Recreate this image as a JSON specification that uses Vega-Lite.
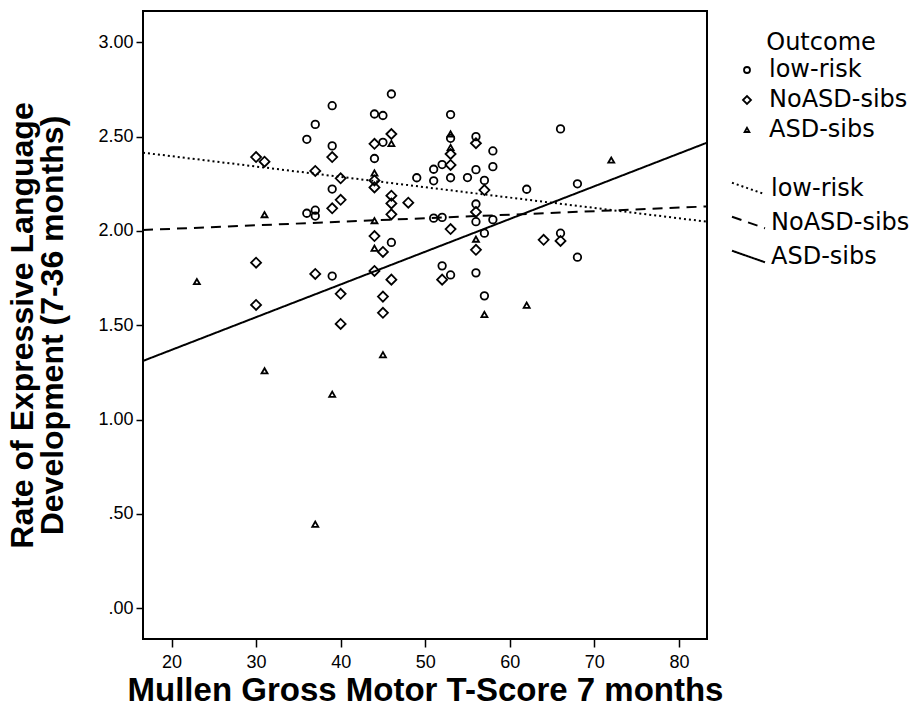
{
  "$schema": "https://vega.github.io/schema/vega-lite/v6.json",
  "width": 564,
  "height": 628,
  "autosize": {"type": "none"},
  "padding": {"left": 143, "top": 11, "right": 209, "bottom": 81},
  "background": "white",
  "config": {"view": {"stroke": "black", "strokeWidth": 2}},
  "datasets": {
    "points": [
      {"Outcome": "low-risk", "score": 46, "rate": 2.726},
      {"Outcome": "low-risk", "score": 39, "rate": 2.664},
      {"Outcome": "low-risk", "score": 44, "rate": 2.620},
      {"Outcome": "low-risk", "score": 45, "rate": 2.612},
      {"Outcome": "low-risk", "score": 37, "rate": 2.565},
      {"Outcome": "low-risk", "score": 36, "rate": 2.486},
      {"Outcome": "low-risk", "score": 45, "rate": 2.470},
      {"Outcome": "low-risk", "score": 39, "rate": 2.451},
      {"Outcome": "low-risk", "score": 44, "rate": 2.384},
      {"Outcome": "low-risk", "score": 51, "rate": 2.327},
      {"Outcome": "low-risk", "score": 49, "rate": 2.282},
      {"Outcome": "low-risk", "score": 51, "rate": 2.266},
      {"Outcome": "low-risk", "score": 39, "rate": 2.222},
      {"Outcome": "low-risk", "score": 36, "rate": 2.094},
      {"Outcome": "low-risk", "score": 37, "rate": 2.110},
      {"Outcome": "low-risk", "score": 37, "rate": 2.079},
      {"Outcome": "low-risk", "score": 51, "rate": 2.068},
      {"Outcome": "low-risk", "score": 46, "rate": 1.939},
      {"Outcome": "low-risk", "score": 39, "rate": 1.761},
      {"Outcome": "low-risk", "score": 52, "rate": 1.815},
      {"Outcome": "low-risk", "score": 53, "rate": 2.617},
      {"Outcome": "low-risk", "score": 53, "rate": 2.491},
      {"Outcome": "low-risk", "score": 56, "rate": 2.500},
      {"Outcome": "low-risk", "score": 58, "rate": 2.424},
      {"Outcome": "low-risk", "score": 58, "rate": 2.341},
      {"Outcome": "low-risk", "score": 56, "rate": 2.325},
      {"Outcome": "low-risk", "score": 55, "rate": 2.283},
      {"Outcome": "low-risk", "score": 57, "rate": 2.268},
      {"Outcome": "low-risk", "score": 52, "rate": 2.352},
      {"Outcome": "low-risk", "score": 53, "rate": 2.282},
      {"Outcome": "low-risk", "score": 62, "rate": 2.221},
      {"Outcome": "low-risk", "score": 66, "rate": 2.541},
      {"Outcome": "low-risk", "score": 68, "rate": 2.250},
      {"Outcome": "low-risk", "score": 52, "rate": 2.072},
      {"Outcome": "low-risk", "score": 56, "rate": 2.143},
      {"Outcome": "low-risk", "score": 56, "rate": 2.049},
      {"Outcome": "low-risk", "score": 58, "rate": 2.060},
      {"Outcome": "low-risk", "score": 57, "rate": 1.988},
      {"Outcome": "low-risk", "score": 66, "rate": 1.988},
      {"Outcome": "low-risk", "score": 68, "rate": 1.861},
      {"Outcome": "low-risk", "score": 53, "rate": 1.767},
      {"Outcome": "low-risk", "score": 56, "rate": 1.778},
      {"Outcome": "low-risk", "score": 57, "rate": 1.656},
      {"Outcome": "NoASD-sibs", "score": 46, "rate": 2.514},
      {"Outcome": "NoASD-sibs", "score": 44, "rate": 2.462},
      {"Outcome": "NoASD-sibs", "score": 39, "rate": 2.392},
      {"Outcome": "NoASD-sibs", "score": 30, "rate": 2.392},
      {"Outcome": "NoASD-sibs", "score": 31, "rate": 2.367},
      {"Outcome": "NoASD-sibs", "score": 37, "rate": 2.318},
      {"Outcome": "NoASD-sibs", "score": 44, "rate": 2.268},
      {"Outcome": "NoASD-sibs", "score": 44, "rate": 2.231},
      {"Outcome": "NoASD-sibs", "score": 40, "rate": 2.279},
      {"Outcome": "NoASD-sibs", "score": 46, "rate": 2.187},
      {"Outcome": "NoASD-sibs", "score": 46, "rate": 2.146},
      {"Outcome": "NoASD-sibs", "score": 48, "rate": 2.150},
      {"Outcome": "NoASD-sibs", "score": 40, "rate": 2.165},
      {"Outcome": "NoASD-sibs", "score": 39, "rate": 2.120},
      {"Outcome": "NoASD-sibs", "score": 46, "rate": 2.088},
      {"Outcome": "NoASD-sibs", "score": 44, "rate": 1.973},
      {"Outcome": "NoASD-sibs", "score": 45, "rate": 1.889},
      {"Outcome": "NoASD-sibs", "score": 30, "rate": 1.832},
      {"Outcome": "NoASD-sibs", "score": 37, "rate": 1.772},
      {"Outcome": "NoASD-sibs", "score": 44, "rate": 1.788},
      {"Outcome": "NoASD-sibs", "score": 46, "rate": 1.742},
      {"Outcome": "NoASD-sibs", "score": 40, "rate": 1.667},
      {"Outcome": "NoASD-sibs", "score": 45, "rate": 1.652},
      {"Outcome": "NoASD-sibs", "score": 30, "rate": 1.608},
      {"Outcome": "NoASD-sibs", "score": 45, "rate": 1.566},
      {"Outcome": "NoASD-sibs", "score": 40, "rate": 1.507},
      {"Outcome": "NoASD-sibs", "score": 53, "rate": 2.408},
      {"Outcome": "NoASD-sibs", "score": 53, "rate": 2.350},
      {"Outcome": "NoASD-sibs", "score": 56, "rate": 2.465},
      {"Outcome": "NoASD-sibs", "score": 57, "rate": 2.217},
      {"Outcome": "NoASD-sibs", "score": 56, "rate": 2.101},
      {"Outcome": "NoASD-sibs", "score": 53, "rate": 2.010},
      {"Outcome": "NoASD-sibs", "score": 56, "rate": 1.900},
      {"Outcome": "NoASD-sibs", "score": 64, "rate": 1.953},
      {"Outcome": "NoASD-sibs", "score": 66, "rate": 1.947},
      {"Outcome": "NoASD-sibs", "score": 52, "rate": 1.742},
      {"Outcome": "ASD-sibs", "score": 46, "rate": 2.463},
      {"Outcome": "ASD-sibs", "score": 44, "rate": 2.307},
      {"Outcome": "ASD-sibs", "score": 31, "rate": 2.086},
      {"Outcome": "ASD-sibs", "score": 44, "rate": 2.054},
      {"Outcome": "ASD-sibs", "score": 44, "rate": 1.908},
      {"Outcome": "ASD-sibs", "score": 23, "rate": 1.731},
      {"Outcome": "ASD-sibs", "score": 45, "rate": 1.343},
      {"Outcome": "ASD-sibs", "score": 31, "rate": 1.258},
      {"Outcome": "ASD-sibs", "score": 39, "rate": 1.134},
      {"Outcome": "ASD-sibs", "score": 37, "rate": 0.445},
      {"Outcome": "ASD-sibs", "score": 53, "rate": 2.514},
      {"Outcome": "ASD-sibs", "score": 53, "rate": 2.442},
      {"Outcome": "ASD-sibs", "score": 72, "rate": 2.375},
      {"Outcome": "ASD-sibs", "score": 56, "rate": 1.956},
      {"Outcome": "ASD-sibs", "score": 62, "rate": 1.606},
      {"Outcome": "ASD-sibs", "score": 57, "rate": 1.557}
    ],
    "fits": [
      {"Fit": "low-risk fit", "score": 16.63, "rate": 2.415},
      {"Fit": "low-risk fit", "score": 83.32, "rate": 2.049},
      {"Fit": "NoASD-sibs fit", "score": 16.63, "rate": 2.005},
      {"Fit": "NoASD-sibs fit", "score": 83.32, "rate": 2.130},
      {"Fit": "ASD-sibs fit", "score": 16.63, "rate": 1.311},
      {"Fit": "ASD-sibs fit", "score": 83.32, "rate": 2.468}
    ]
  },
  "encoding": {
    "x": {
      "field": "score",
      "type": "quantitative",
      "scale": {"domain": [16.63, 83.32], "nice": false, "zero": false},
      "axis": {
        "title": "Mullen Gross Motor T-Score 7 months",
        "values": [20, 30, 40, 50, 60, 70, 80],
        "format": "d",
        "grid": false,
        "domain": false,
        "tickSize": 8,
        "tickWidth": 1.5,
        "tickColor": "black",
        "labelFont": "Liberation Sans",
        "labelFontSize": 18,
        "labelColor": "black",
        "labelPadding": 6,
        "titleFont": "Liberation Sans",
        "titleFontSize": 33,
        "titleFontWeight": "bold",
        "titleColor": "black",
        "titleY": 51,
        "titleBaseline": "middle"
      }
    },
    "y": {
      "field": "rate",
      "type": "quantitative",
      "scale": {"domain": [-0.163, 3.166], "nice": false, "zero": false},
      "axis": {
        "title": ["Rate of Expressive Language", "Development (7-36 months)"],
        "values": [0, 0.5, 1, 1.5, 2, 2.5, 3],
        "labelExpr": "datum.value < 1 ? substring(format(datum.value, '.2f'), 1) : format(datum.value, '.2f')",
        "grid": false,
        "domain": false,
        "tickSize": 7,
        "tickWidth": 1.5,
        "tickColor": "black",
        "labelFont": "Liberation Sans",
        "labelFontSize": 18,
        "labelColor": "black",
        "labelPadding": 3,
        "titleFont": "Liberation Sans",
        "titleFontSize": 32,
        "titleFontWeight": "bold",
        "titleColor": "black",
        "titleLineHeight": 30,
        "titleX": -121,
        "titleY": 314,
        "titleAngle": -90,
        "titleAlign": "center",
        "titleBaseline": "middle"
      }
    }
  },
  "layer": [
    {
      "data": {"name": "fits"},
      "mark": {"type": "line", "color": "black", "strokeWidth": 2},
      "encoding": {
        "strokeDash": {
          "field": "Fit",
          "type": "nominal",
          "scale": {"domain": ["low-risk fit", "NoASD-sibs fit", "ASD-sibs fit"], "range": [[2, 3], [10, 7], [1, 0]]},
          "legend": {
            "title": null,
            "orient": "none",
            "legendX": 588,
            "legendY": 160,
            "padding": 0,
            "symbolType": "M-1,-0.35L1,0.35",
            "symbolSize": 1089,
            "symbolStrokeColor": "black",
            "symbolStrokeWidth": 2,
            "labelExpr": "replace(datum.label, ' fit', '')",
            "labelFont": "DejaVu Sans",
            "labelFontSize": 24,
            "labelColor": "black",
            "labelOffset": 5,
            "rowPadding": 4
          }
        }
      }
    },
    {
      "data": {"name": "points"},
      "mark": {"type": "point", "filled": false, "color": "black", "strokeWidth": 1.8, "size": 100, "opacity": 1},
      "encoding": {
        "shape": {
          "field": "Outcome",
          "type": "nominal",
          "scale": {
            "domain": ["low-risk", "NoASD-sibs", "ASD-sibs"],
            "range": [
              "M-0.75,0A0.75,0.75,0,1,0,0.75,0A0.75,0.75,0,1,0,-0.75,0Z",
              "M-1,0L0,-1L1,0L0,1Z",
              "M0,-0.55L-0.6,0.5L0.6,0.5Z"
            ]
          },
          "legend": {
            "title": "Outcome",
            "orient": "none",
            "legendX": 592,
            "legendY": 20,
            "padding": 0,
            "symbolSize": 64,
            "symbolStrokeColor": "black",
            "symbolFillColor": "transparent",
            "symbolStrokeWidth": 1.8,
            "labelFont": "DejaVu Sans",
            "labelFontSize": 24,
            "labelColor": "black",
            "labelOffset": 10,
            "rowPadding": 6,
            "titleFont": "DejaVu Sans",
            "titleFontSize": 24,
            "titleFontWeight": "normal",
            "titleColor": "black",
            "titleAnchor": "middle",
            "titlePadding": 3
          }
        }
      }
    }
  ]
}
